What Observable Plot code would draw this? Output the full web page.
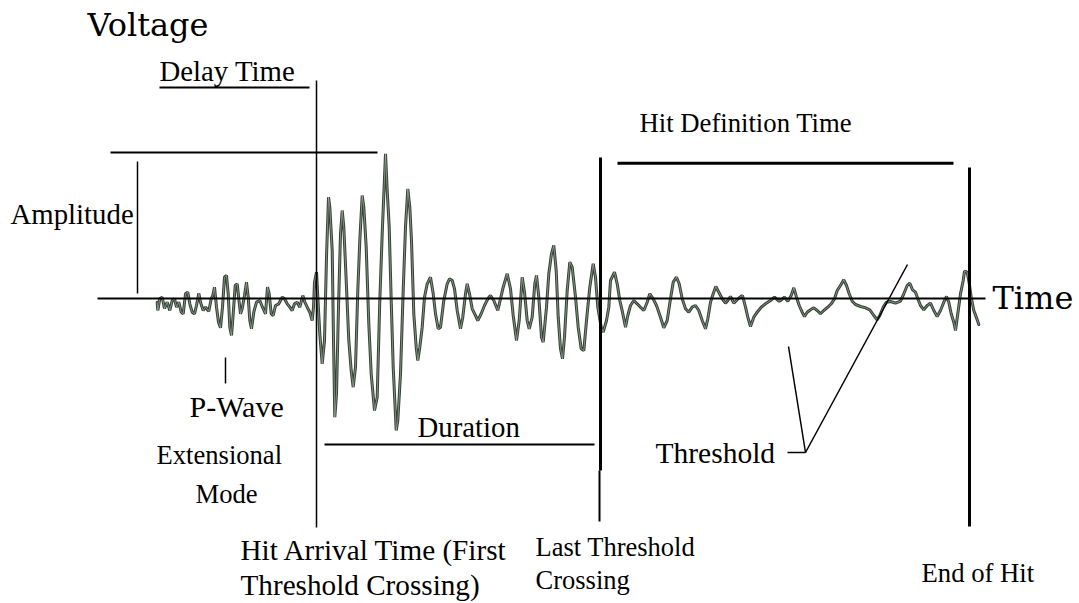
<!DOCTYPE html>
<html>
<head>
<meta charset="utf-8">
<script src="https://cdn.jsdelivr.net/npm/d3@7"></script>
<script src="https://cdn.jsdelivr.net/npm/@observablehq/plot@0.6"></script>
<style>
  html, body { margin: 0; padding: 0; background: #fff; }
  #chart svg { display: block; }
</style>
</head>
<body>
<div id="chart"></div>
<script>
// ---- Waveform: time (arbitrary units) and voltage (arbitrary units, 0 = baseline)
const waveTime = [
  156.7,157.3,159.3,161.7,164,166.7,169.3,171.7,174,176,178.3,180.7,182.7,185,187.3,189.3,191.7,194,196,198.3,
  200,202.7,205,208.3,210.7,212.3,214,216,218,220,222,224,226,227.7,229.3,231,232.7,234.7,236.7,238.3,
  240,241.7,244,246,247.7,249.3,251,253.3,256,259.3,262,265,267,268.7,270.7,272.7,275,278.3,281.7,284,
  286.7,289.3,291.7,294,296.7,299.3,302.3,304.3,306.7,309.3,311.7,313,314,
  316,317.3,319.3,321.7,324,326,328,329.3,331.7,333,334.3,336,338,340,341.7,343.3,345.7,348.3,350.7,352.7,
  355,357.3,359.3,361.7,363.3,365.7,368.3,370.7,374,376.7,379.3,381.7,385,386.7,388.7,390.7,392.7,395.7,397.3,400,
  402.7,405,407.3,409.3,411,413.3,415.7,417.3,419.3,421.7,424,426.7,430,432.7,435,437.7,
  440,443.3,446.7,449,451.7,454,456.7,460,462.3,465,466.7,469,471.7,475,477.3,480.7,484,487.3,490,493.3,
  497.3,500,502.7,506.7,510,512.7,516,518.7,521.7,524,526.7,528.7,531.7,534.3,536,538.3,541,542.7,546,548.3,
  551,553.3,555.7,557.7,560,562,564,566.7,569.3,571.7,575,577.7,580.7,583.3,586,589.3,592.7,595,597.3,600.7,
  602.7,606,608.3,610,614,616.7,619.3,622,625,627.3,630,633.3,636.7,640,643.3,646.7,649.3,652.7,656,660,
  663.3,666.7,670,672.7,676,678.7,681.7,685,688.3,691.7,695,698.3,701.7,705,707.3,710,712.7,715.3,718.3,721.7,
  725,727.3,730,733.3,736.7,739.3,742,745,747.3,750,753.3,756.7,760.7,765,770,774,778.3,
  780,784,787.3,790.7,793.3,796,798.7,801.7,804,806.7,810,813.3,816.7,820,823.3,827.3,830.7,834,836.7,840,
  843.3,846,848.7,851.7,855,860,865,869.3,873.3,876.7,879.3,882.7,886,890,895,900,903.3,906.7,909.3,912,
  915,917.3,920,923.3,926.7,930,933.3,936.7,940,943.3,946,948.3,950.7,953.3,955,957.3,960,962.7,964,966.7,
  968.3,970.7,973.3,976,978.3
];
const waveVoltage = [
  -3.7,-12,-0.3,1.3,-10,-3.7,-12,-2,-0.3,-8.7,-3.7,-13.7,-15.3,4.7,6.3,-5.3,-13.7,-15.3,-7,5.3,
  -3.7,-12,-8.7,-12.7,-0.3,3,11.3,-8.7,-23.7,-29.3,-8.7,21.3,23,4.7,-28.7,-37,-15.3,13,14.7,-0.3,
  -15.3,-10.3,3,16.3,1.3,-22,-30.3,-13.7,-3.7,-2,-8.7,-15.3,11.3,4.7,-15.3,-17,-7,-5.3,1.3,-0.3,
  -5.3,-8.7,-12,-5.3,-3.7,-8.7,3,-3.7,-8.7,-13.7,-22,-8.7,16.3,
  26.3,1.3,-35.3,-65.3,-42,41.3,101.3,91.3,48,-42,-118.7,-95.3,-8.7,64.7,88,71.3,18,-42,-72,-88.7,
  -68.7,8,58,103,91.3,51.3,-25.3,-75.3,-112,-98.7,-2,64.7,144.7,108,71.3,-2,-68.7,-132,-122,-75.3,
  8,71.3,109.7,91.3,58,-15.3,-48.7,-62,-48.7,-28.7,1.3,14.7,21.3,4.7,-15.3,-30.3,
  -28.7,-2,14.7,19.7,18,9.7,-12,-30.3,-18.7,4.7,14.7,4.7,-10.3,-17,-22,-15.3,-7,-0.3,3,-2,
  -12,-0.3,11.3,24.7,9.7,-17,-42,-22,21.3,6.3,-22,-30.3,-18.7,14.7,23,1.3,-38.7,-43.7,-8.7,24.7,
  44.7,53,28,-18.7,-50.3,-60.3,-38.7,8,36.3,31.3,1.3,-28.7,-50.3,-52,-22,11.3,34.7,21.3,-8.7,-28.7,
  -33.7,-22,-8.7,18,26.3,14.7,-2,-13.7,-28.7,-17,-7,-2,-5.3,-8.7,-12,-3.7,4.7,-0.3,-7,-18.7,
  -29.3,-22,-0.3,16.3,21.3,14.7,-0.3,-10.3,-13.7,-8.7,-7,-12,-22,-30.3,-20.3,-3.7,4.7,12,6.3,-0.3,
  -4.7,-2,2,-4.7,-1.3,1.3,3,-8.7,-18.7,-28,-18.7,-13.7,-8.7,-5.3,-2,1.3,-2.7,
  -2,1.3,-2.7,3,10.7,1.3,-7,-13.7,-18,-13.7,-11.3,-9.3,-12,-15.3,-12,-8.7,-5.3,-0.3,8,13,
  18.7,13,4.7,-2.7,-6,-8,-9.3,-11.3,-17,-21.3,-17,-8.7,-3.7,-3,-4.7,-2.7,4.7,13,15.3,8.7,
  6.3,-0.3,-7,-11.3,-7,-4.7,-12,-18,-12,-3.7,2,-3.7,-15.3,-23.7,-32,-15.3,4.7,18,27.3,26.3,
  18,1.3,-12,-19.3,-26
];

// ---- Annotation geometry (same units as the waveform)
const timeAxis      = [{x1: 97,  y1: 0,    x2: 985, y2: 0}];
const thinLines     = [
  {x1: 316, y1: 218, x2: 316, y2: -229},   // hit arrival time
  {x1: 137, y1: 137, x2: 137, y2: 5},      // amplitude bar
  {x1: 225, y1: -59, x2: 225, y2: -85},    // P-wave tick
  {x1: 787, y1: -154, x2: 805, y2: -154},  // threshold dash
  {x1: 805, y1: -154, x2: 788, y2: -48},   // threshold pointer 1
  {x1: 805, y1: -154, x2: 907, y2: 34}     // threshold pointer 2
];
const mediumLines   = [
  {x1: 159, y1: 211, x2: 309, y2: 211},    // delay time
  {x1: 110, y1: 146, x2: 377, y2: 146},    // amplitude top
  {x1: 324, y1: -146, x2: 594, y2: -146},  // duration
  {x1: 599, y1: -172, x2: 599, y2: -223}   // last crossing (lower part)
];
const thickLines    = [
  {x1: 600, y1: 141, x2: 600, y2: -172},   // last threshold crossing
  {x1: 617, y1: 135.3, x2: 953, y2: 135.3},// hit definition time
  {x1: 969, y1: 131, x2: 969, y2: -228}    // end of hit
];

// ---- Labels
const bigLabels   = [
  {text: "Voltage", x: 87,  y: 263},
  {text: "Time",    x: 992, y: -10}
];
const serifLabels = [
  {text: "Delay Time",              x: 159, y: 218,  size: 28.8},
  {text: "Amplitude",               x: 10,  y: 75,   size: 28.8},
  {text: "Hit Definition Time",     x: 639, y: 167,  size: 26.7},
  {text: "P-Wave",                  x: 189, y: -118, size: 30},
  {text: "Duration",                x: 417, y: -138, size: 28.8},
  {text: "Extensional",             x: 156, y: -165, size: 26.6},
  {text: "Mode",                    x: 195, y: -204, size: 26.6},
  {text: "Threshold",               x: 655, y: -164, size: 29.5},
  {text: "Hit Arrival Time (First", x: 240, y: -261, size: 29.2},
  {text: "Threshold Crossing)",     x: 240, y: -296, size: 29.2},
  {text: "Last Threshold",          x: 535, y: -257, size: 26.5},
  {text: "Crossing",                x: 535, y: -290, size: 26.5},
  {text: "End of Hit",              x: 921, y: -283, size: 26.7}
];

const wave = waveTime.map((t, i) => ({t, v: waveVoltage[i]}));

const chart = Plot.plot({
  width: 1079,
  height: 603,
  margin: 0,
  style: {background: "#fff", overflow: "visible"},
  x: {domain: [0, 1079], range: [0, 1079], axis: null},
  y: {domain: [-305, 298], range: [603, 0], axis: null},
  marks: [
    Plot.line(wave, {x: "t", y: "v", stroke: "#334233", strokeWidth: 3, strokeLinejoin: "miter"}),
    Plot.line(wave, {x: "t", y: "v", stroke: "#c3cbc3", strokeWidth: 0.7, strokeOpacity: 0.8}),
    Plot.link(timeAxis,   {x1: "x1", y1: "y1", x2: "x2", y2: "y2", stroke: "#000", strokeWidth: 2}),
    Plot.link(thinLines,  {x1: "x1", y1: "y1", x2: "x2", y2: "y2", stroke: "#000", strokeWidth: 1.5}),
    Plot.link(mediumLines,{x1: "x1", y1: "y1", x2: "x2", y2: "y2", stroke: "#000", strokeWidth: 2}),
    Plot.link(thickLines, {x1: "x1", y1: "y1", x2: "x2", y2: "y2", stroke: "#000", strokeWidth: 3}),
    Plot.text(bigLabels, {x: "x", y: "y", text: "text", textAnchor: "start", lineAnchor: "bottom",
      fontFamily: "DejaVu Serif", fontSize: 32, fill: "#000"}),
    ...serifLabels.map(d => Plot.text([d], {x: "x", y: "y", text: "text", textAnchor: "start", lineAnchor: "bottom",
      fontFamily: "Liberation Serif", fontSize: d.size, fill: "#000"}))
  ]
});
document.getElementById("chart").appendChild(chart);
</script>
</body>
</html>
